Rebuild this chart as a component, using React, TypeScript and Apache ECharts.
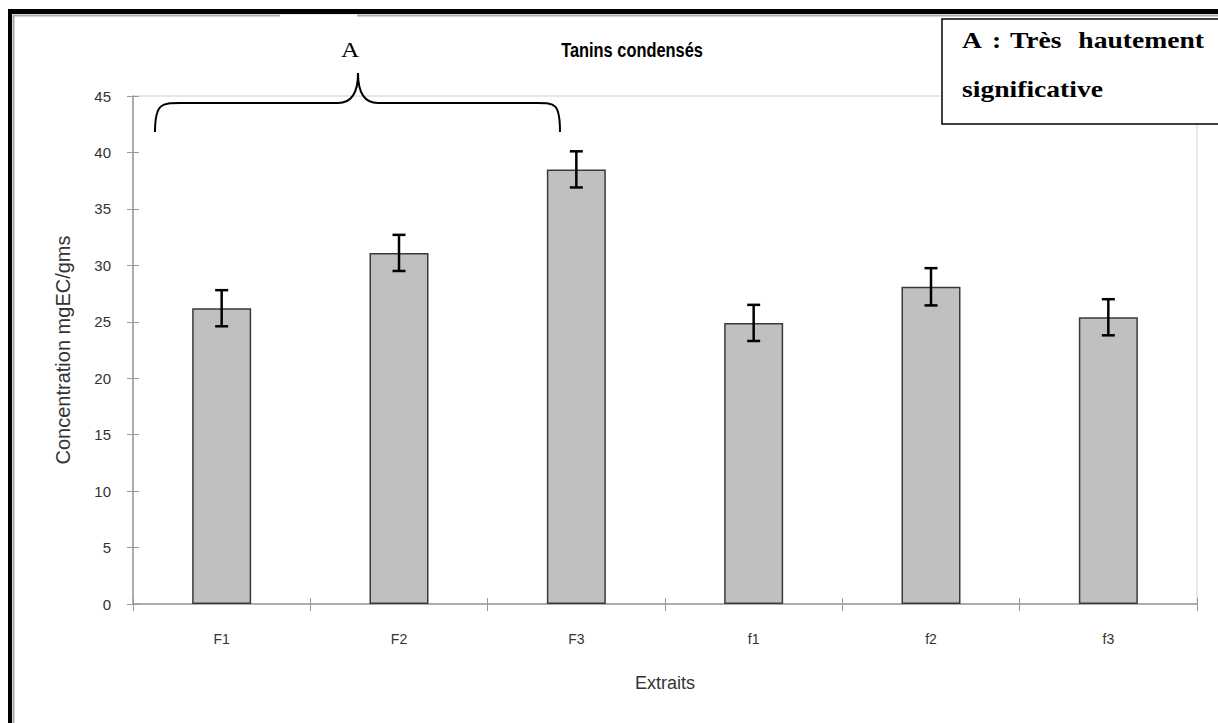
import React, { useEffect, useRef } from "react";
import * as echarts from "echarts";

const categories = ["F1", "F2", "F3", "f1", "f2", "f3"];
const values = [26.2, 31.1, 38.5, 24.9, 28.1, 25.4];
const errors = [1.6, 1.6, 1.6, 1.6, 1.65, 1.6];
const yTicks = { min: 0, max: 45, interval: 5 };

const titleText = "Tanins condensés";
const yName = "Concentration mgEC/gms";
const xName = "Extraits";

export default function App() {
  const ref = useRef<HTMLDivElement>(null);
  useEffect(() => {
    if (!ref.current) return;
    const chart = echarts.init(ref.current, null, { renderer: "svg" });
    const errData = categories.map((c, i) => [i, values[i] - errors[i], values[i] + errors[i]]);
    const gray = "#9a9a9a";
    const labelFont = "Liberation Sans";
    const serif = "'Liberation Serif', 'Times New Roman'";
    const option: any = {
      animation: false,
      backgroundColor: "#ffffff",
      grid: { left: 133, right: 21, top: 96, bottom: 119, show: true, borderColor: "#cfcfcf", borderWidth: 1 },
      xAxis: [
        {
          type: "category",
          data: categories,
          axisLine: { lineStyle: { color: gray, width: 1.5 } },
          axisTick: { show: true, length: 7, lineStyle: { color: gray } },
          axisLabel: { color: "#333", fontSize: 14, fontFamily: labelFont, margin: 28 },
          name: xName,
          nameLocation: "middle",
          nameGap: 70,
          nameTextStyle: { color: "#333", fontSize: 18, fontFamily: labelFont },
        },
        {
          type: "category",
          data: categories,
          position: "bottom",
          axisLine: { show: false },
          axisTick: { show: true, inside: true, length: 6, lineStyle: { color: gray } },
          axisLabel: { show: false },
        },
      ],
      yAxis: [
        {
          type: "value",
          min: yTicks.min,
          max: yTicks.max,
          interval: yTicks.interval,
          splitLine: { show: false },
          axisLine: { show: true, lineStyle: { color: gray, width: 1.5 } },
          axisTick: { show: true, length: 6, lineStyle: { color: gray } },
          axisLabel: { color: "#333", fontSize: 15, fontFamily: labelFont, margin: 22 },
          name: yName,
          nameLocation: "middle",
          nameGap: 60,
          nameTextStyle: { color: "#333", fontSize: 20, fontFamily: labelFont },
        },
        {
          type: "value",
          min: yTicks.min,
          max: yTicks.max,
          interval: yTicks.interval,
          position: "left",
          splitLine: { show: false },
          axisLine: { show: false },
          axisTick: { show: true, inside: true, length: 6, lineStyle: { color: gray } },
          axisLabel: { show: false },
        },
      ],
      series: [
        {
          type: "bar",
          data: values,
          barWidth: 59,
          itemStyle: { color: "#c0c0c0", borderColor: "#3a3a3a", borderWidth: 1.5 },
        },
        {
          type: "custom",
          data: errData,
          z: 10,
          renderItem: (params: any, api: any) => {
            const idx = api.value(0);
            const lo = api.coord([idx, api.value(1)]);
            const hi = api.coord([idx, api.value(2)]);
            const hw = 6.5;
            const st = { stroke: "#000", lineWidth: 2.5 };
            return {
              type: "group",
              children: [
                { type: "line", shape: { x1: hi[0], y1: hi[1], x2: lo[0], y2: lo[1] }, style: st },
                { type: "line", shape: { x1: hi[0] - hw, y1: hi[1], x2: hi[0] + hw, y2: hi[1] }, style: st },
                { type: "line", shape: { x1: lo[0] - hw, y1: lo[1], x2: lo[0] + hw, y2: lo[1] }, style: st },
              ],
            };
          },
        },
      ],
      graphic: [
        // outer frame
        { type: "rect", shape: { x: 8, y: 9, width: 1210, height: 5 }, style: { fill: "#000" }, silent: true },
        { type: "rect", shape: { x: 8, y: 9, width: 4, height: 714 }, style: { fill: "#000" }, silent: true },
        { type: "line", shape: { x1: 13, y1: 15.5, x2: 1218, y2: 15.5 }, style: { stroke: "#a8a8a8", lineWidth: 2 } },
        { type: "line", shape: { x1: 13.5, y1: 15, x2: 13.5, y2: 723 }, style: { stroke: "#a8a8a8", lineWidth: 2 } },
        { type: "rect", shape: { x: 280, y: 14.5, width: 77, height: 3 }, style: { fill: "#fff" } },
        // title
        {
          type: "text",
          x: 632,
          y: 50,
          scaleX: 0.82,
          style: { text: titleText, fill: "#000", font: "bold 20px 'Liberation Sans', Arial", align: "center", verticalAlign: "middle" },
        },
        // brace annotation
        {
          type: "text",
          x: 350,
          y: 50,
          scaleX: 1.15,
          style: { text: "A", fill: "#000", font: "22px " + serif, align: "center", verticalAlign: "middle" },
        },
        { type: "bezierCurve", shape: { x1: 155, y1: 132, cpx1: 155, cpy1: 103, cpx2: 162, cpy2: 103, x2: 180, y2: 103 }, style: { stroke: "#000", lineWidth: 2, fill: null } },
        { type: "line", shape: { x1: 180, y1: 103, x2: 338, y2: 103 }, style: { stroke: "#000", lineWidth: 2 } },
        { type: "bezierCurve", shape: { x1: 338, y1: 103, cpx1: 353, cpy1: 103, cpx2: 358, cpy2: 90, x2: 358, y2: 73 }, style: { stroke: "#000", lineWidth: 2, fill: null } },
        { type: "bezierCurve", shape: { x1: 358, y1: 73, cpx1: 358, cpy1: 90, cpx2: 363, cpy2: 103, x2: 378, y2: 103 }, style: { stroke: "#000", lineWidth: 2, fill: null } },
        { type: "line", shape: { x1: 378, y1: 103, x2: 537, y2: 103 }, style: { stroke: "#000", lineWidth: 2 } },
        { type: "bezierCurve", shape: { x1: 537, y1: 103, cpx1: 555, cpy1: 103, cpx2: 560, cpy2: 103, x2: 560, y2: 132 }, style: { stroke: "#000", lineWidth: 2, fill: null } },
        // legend box
        { type: "rect", shape: { x: 942, y: 19, width: 300, height: 105 }, style: { fill: "#fff", stroke: "#000", lineWidth: 1.5 } },
        { type: "text", x: 962, y: 40, scaleX: 1.15, style: { text: "A", fill: "#000", font: "bold 24px " + serif, verticalAlign: "middle" } },
        { type: "text", x: 992, y: 40, scaleX: 1.15, style: { text: ":", fill: "#000", font: "bold 24px " + serif, verticalAlign: "middle" } },
        { type: "text", x: 1010, y: 40, scaleX: 1.15, style: { text: "Très", fill: "#000", font: "bold 24px " + serif, verticalAlign: "middle" } },
        { type: "text", x: 1204, y: 40, scaleX: 1.15, style: { text: "hautement", fill: "#000", font: "bold 24px " + serif, align: "right", verticalAlign: "middle" } },
        { type: "text", x: 962, y: 89, scaleX: 1.15, style: { text: "significative", fill: "#000", font: "bold 24px " + serif, verticalAlign: "middle" } },
      ],
    };
    chart.setOption(option);
    return () => chart.dispose();
  }, []);
  return <div ref={ref} style={{ position: "absolute", left: 0, top: 0, width: 1218, height: 723 }} />;
}
